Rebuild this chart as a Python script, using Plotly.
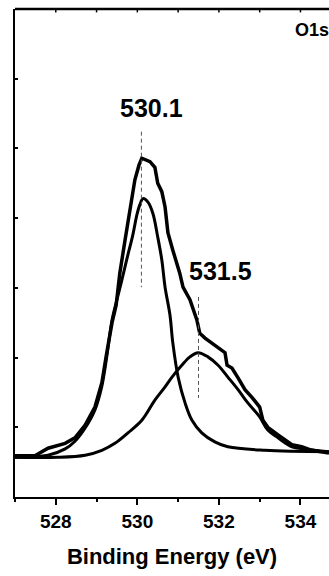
import plotly.graph_objects as go

# Experimental envelope (O1s spectrum)
env_x = [527.00, 527.49, 527.81, 528.23, 528.47, 528.72, 528.96, 529.13, 529.25, 529.38,
         529.48, 529.57, 529.70, 529.82, 529.94, 530.04, 530.11, 530.31, 530.43, 530.50,
         530.60, 530.68, 530.75, 530.87, 531.04, 531.12, 531.29, 531.46, 531.53, 531.66,
         531.98, 532.15, 532.20, 532.32, 532.47, 532.64, 532.81, 533.00, 533.08, 533.20,
         533.45, 533.79, 534.03, 534.28, 534.70]
env_y = [0.59, 0.59, 0.70, 0.77, 0.85, 1.03, 1.29, 1.64, 2.07, 2.50,
         2.75, 3.21, 3.69, 4.16, 4.55, 4.76, 4.86, 4.81, 4.73, 4.50,
         4.38, 4.16, 3.79, 3.54, 3.21, 3.01, 2.83, 2.54, 2.35, 2.28,
         2.14, 2.07, 1.89, 1.85, 1.71, 1.54, 1.43, 1.29, 1.10, 1.00,
         0.89, 0.75, 0.72, 0.67, 0.63]

# Fitted component at 530.1 eV
c1_x = [527.00, 527.81, 528.23, 528.47, 528.72, 528.96, 529.13, 529.25, 529.38, 529.50,
        529.62, 529.75, 529.89, 529.99, 530.06, 530.14, 530.26, 530.38, 530.50, 530.60,
        530.68, 530.80, 530.87, 531.00, 531.17, 531.34, 531.58, 531.90, 532.22, 533.13,
        534.70]
c1_y = [0.57, 0.60, 0.69, 0.80, 0.99, 1.25, 1.59, 2.01, 2.54, 2.83,
        3.11, 3.43, 3.76, 4.05, 4.19, 4.28, 4.23, 4.07, 3.73, 3.40,
        3.01, 2.61, 2.21, 1.72, 1.35, 1.10, 0.92, 0.79, 0.72, 0.67,
        0.65]

# Fitted component at 531.5 eV
c2_x = [527.00, 528.05, 528.72, 529.13, 529.45, 529.77, 530.11, 530.43, 530.68, 530.85,
        531.09, 531.29, 531.49, 531.73, 531.98, 532.22, 532.47, 532.71, 533.00, 533.20,
        533.45, 533.79, 534.11, 534.70]
c2_y = [0.57, 0.57, 0.60, 0.67, 0.77, 0.92, 1.10, 1.39, 1.58, 1.72,
        1.89, 2.01, 2.07, 2.01, 1.89, 1.72, 1.54, 1.35, 1.15, 0.96,
        0.85, 0.72, 0.69, 0.65]

peak_labels = ["530.1", "531.5"]
peak_pos = [530.1, 531.5]
marker_top = [5.24, 2.87]
marker_bot = [3.01, 1.42]
label_y = [5.58, 3.24]
label_shift = [10, 22]

x_range = [527.0, 534.70]
y_range = [0, 7]
tick_vals = [528, 530, 532, 534]
top_ticks = [528, 529, 530, 531, 532, 533, 534]

FONT = "Liberation Sans, Arial, sans-serif"

fig = go.Figure()
fig.add_trace(go.Scatter(x=env_x, y=env_y, mode="lines",
                         line=dict(color="black", width=3.5), showlegend=False))
fig.add_trace(go.Scatter(x=c1_x, y=c1_y, mode="lines",
                         line=dict(color="black", width=3, shape="spline"), showlegend=False))
fig.add_trace(go.Scatter(x=c2_x, y=c2_y, mode="lines",
                         line=dict(color="black", width=3, shape="spline"), showlegend=False))

for p, t, b in zip(peak_pos, marker_top, marker_bot):
    fig.add_trace(go.Scatter(x=[p, p], y=[t, b], mode="lines",
                             line=dict(color="#555555", width=1, dash="4px,3px"),
                             showlegend=False))

for p, txt, ly, sh in zip(peak_pos, peak_labels, label_y, label_shift):
    fig.add_annotation(x=p, y=ly, text=txt, showarrow=False, xshift=sh,
                       font=dict(family=FONT, size=25, color="black", weight="bold"))

fig.add_annotation(xref="paper", yref="paper", x=0.885, y=0.957, text="O1s",
                   showarrow=False, xanchor="left", yanchor="middle",
                   font=dict(family=FONT, size=18, color="black", weight="bold"))

# top edge of the frame with inward ticks
fig.add_shape(type="line", xref="paper", yref="paper", x0=0, x1=1, y0=1, y1=1,
              line=dict(color="black", width=2.5), layer="above")
for t in top_ticks:
    fig.add_shape(type="line", xref="x", yref="paper", x0=t, x1=t, y0=1, y1=0.993,
                  line=dict(color="black", width=1.5), layer="above")

fig.update_layout(
    width=329, height=576,
    margin=dict(l=15, r=0, t=9, b=79, autoexpand=False),
    paper_bgcolor="white", plot_bgcolor="white",
    showlegend=False,
    xaxis=dict(range=x_range, tickvals=tick_vals, ticks="outside", ticklen=6, tickwidth=2,
               tickcolor="black", showline=True, linecolor="black", linewidth=2,
               showgrid=False, zeroline=False, automargin=False,
               minor=dict(dtick=1, tick0=527, ticks="outside", ticklen=3, tickwidth=2,
                          tickcolor="black", showgrid=False),
               tickfont=dict(family=FONT, size=19, color="black", weight="bold"),
               title=dict(text="Binding Energy (eV)", standoff=18,
                          font=dict(family=FONT, size=22, color="black", weight="bold"))),
    yaxis=dict(range=y_range, dtick=1, ticks="inside", ticklen=3, tickwidth=1.5,
               tickcolor="black", showticklabels=False, showline=True, linecolor="black",
               linewidth=2, showgrid=False, zeroline=False, automargin=False),
)

fig.write_html("out.html", config={"displayModeBar": False},
               post_script="document.body.style.margin='0px';document.body.style.overflow='hidden';")
